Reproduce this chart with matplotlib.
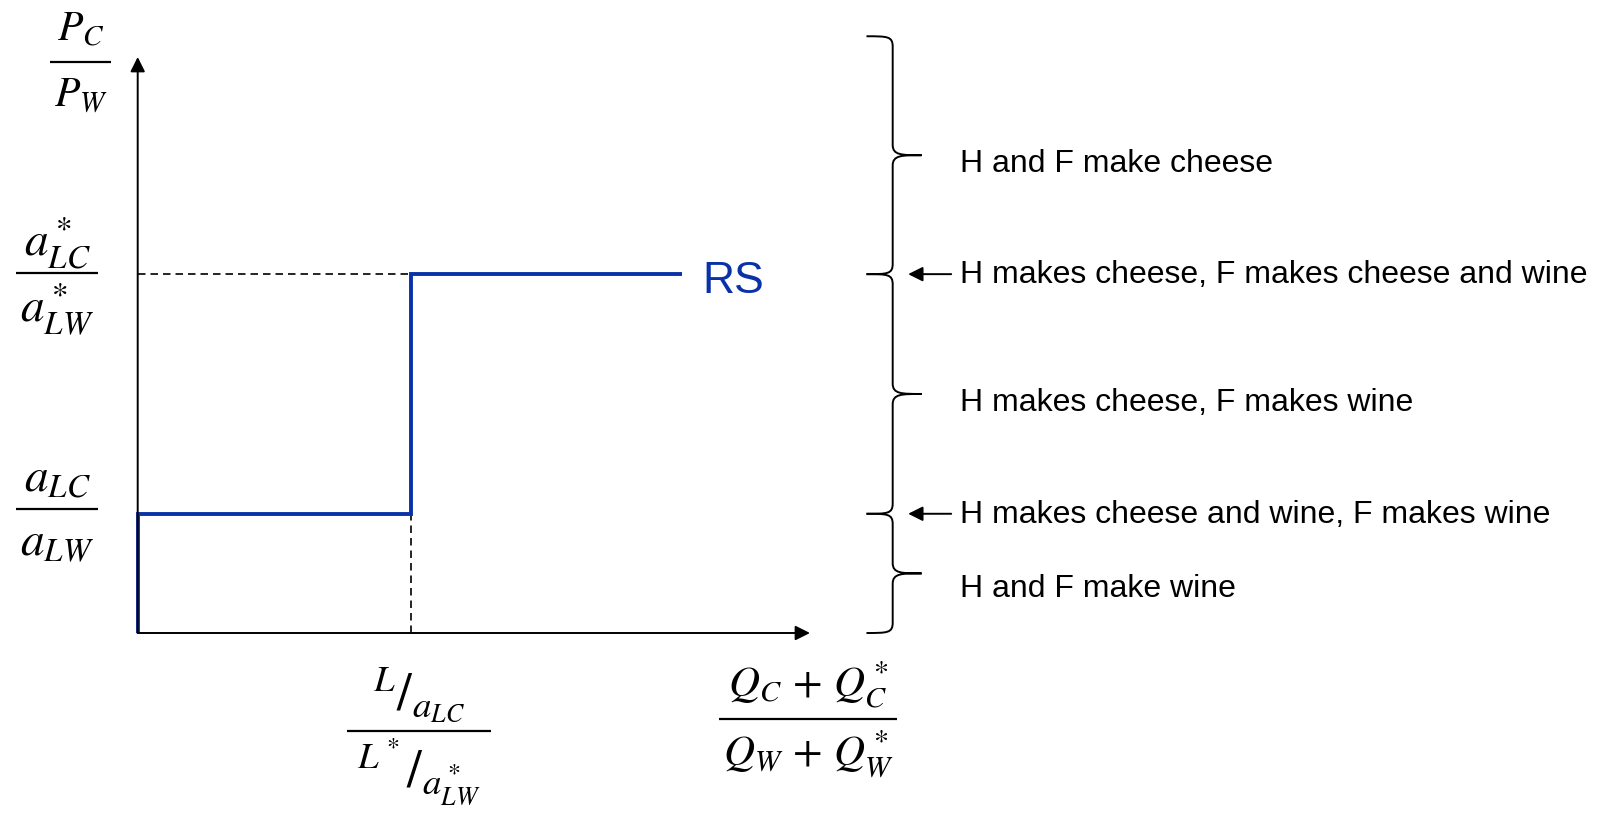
import matplotlib.pyplot as plt
from matplotlib.path import Path
from matplotlib.patches import PathPatch
from matplotlib.transforms import offset_copy

plt.rcParams['font.family'] = ['Liberation Sans', 'DejaVu Sans']
plt.rcParams['mathtext.fontset'] = 'stix'

# relative supply curve (axis units 0..10)
rs_x = [0, 0, 4.07, 4.07, 8.1]
rs_y = [0, 2.07, 2.07, 6.23, 6.23]
price_low = 2.07     # a_LC / a_LW
price_high = 6.23    # a*_LC / a*_LW
supply_kink = 4.07   # (L/a_LC) / (L*/a*_LW)
brace_top = 10.36

regions = ['H and F make cheese',
           'H makes cheese, F makes cheese and wine',
           'H makes cheese, F makes wine',
           'H makes cheese and wine, F makes wine',
           'H and F make wine']
region_y = [8.15, 6.21, 3.99, 2.05, 0.76]
region_arrow = [None, price_high, None, price_low, None]

blue = '#0a32a8'

fig = plt.figure(figsize=(16.11, 8.19), dpi=100)
ax = fig.add_axes([137.7 / 1611, 186 / 819, 672.3 / 1611, 576 / 819])
ax.set_xlim(0, 10)
ax.set_ylim(0, 10)
ax.axis('off')

# axes with arrow heads
for tip in [(0, 1), (1, 0)]:
    ax.annotate('', xy=tip, xytext=(0, 0), xycoords='axes fraction',
                arrowprops=dict(arrowstyle='-|>', lw=1.4, color='black',
                                mutation_scale=22, shrinkA=0, shrinkB=0))

# dashed guide lines
ax.plot([0, supply_kink], [price_high, price_high], color='black', lw=1.2,
        dashes=(4.5, 3), clip_on=False)
ax.plot([supply_kink, supply_kink], [0, price_low], color='black', lw=1.2,
        dashes=(4.5, 3), clip_on=False)

# RS curve
ax.plot(rs_x, rs_y, color=blue, lw=2.8, solid_joinstyle='miter',
        solid_capstyle='butt', clip_on=False)
ax.text(rs_x[-1] + 0.3, rs_y[-1] - 0.13, 'RS', color=blue, fontsize=32,
        ha='left', va='center')


def frac(x, y, num, den, size, gap_num, gap_den, extra=4):
    # stacked fraction: numerator above, denominator below, bar in between
    t_num = ax.text(x, y, num, fontsize=size, ha='center', va='bottom',
                    transform=offset_copy(ax.transData, fig=fig, y=gap_num,
                                          units='dots'))
    t_den = ax.text(x, y, den, fontsize=size, ha='center', va='top',
                    transform=offset_copy(ax.transData, fig=fig, y=-gap_den,
                                          units='dots'))
    fig.canvas.draw()
    r = fig.canvas.get_renderer()
    half = max(t.get_window_extent(r).width for t in (t_num, t_den)) / 2 + extra
    xc, yc = ax.transData.transform((x, y))
    x0, x1 = ax.transData.inverted().transform(
        [(xc - half, yc), (xc + half, yc)])[:, 0]
    ax.plot([x0, x1], [y, y], color='black', lw=1.6, clip_on=False,
            solid_capstyle='butt')


frac(-0.85, 9.92, r'$P_C$', r'$P_W$', 30, 12, 14)
frac(-1.20, 6.25, r'$a^*_{LC}$', r'$a^*_{LW}$', 34, 2, 8)
frac(-1.20, 2.16, r'$a_{LC}$', r'$a_{LW}$', 34, 7, 13)
frac(4.18, -1.71, r'${}^{L}/_{a_{LC}}$', r'${}^{L^*}/_{a^*_{LW}}$', 38, 6, 4,
     extra=10)
frac(9.97, -1.49, r'$Q_C\,+\,Q^*_C$', r'$Q_W\,+\,Q^*_W$', 31, 8, 9)


def brace(y0, y1, x=11.23, w=0.39, tip=0.43, r=0.18):
    # right-facing curly brace between y0 (top) and y1 (bottom)
    ym = (y0 + y1) / 2
    verts = [(x - w, y0), (x - w * 0.2, y0), (x, y0), (x, y0 - r),
             (x, ym + r),
             (x, ym), (x + tip * 0.3, ym), (x + tip, ym),
             (x + tip * 0.3, ym), (x, ym), (x, ym - r),
             (x, y1 + r),
             (x, y1), (x - w * 0.2, y1), (x - w, y1)]
    codes = [Path.MOVETO, Path.CURVE4, Path.CURVE4, Path.CURVE4,
             Path.LINETO,
             Path.CURVE4, Path.CURVE4, Path.CURVE4,
             Path.CURVE4, Path.CURVE4, Path.CURVE4,
             Path.LINETO,
             Path.CURVE4, Path.CURVE4, Path.CURVE4]
    ax.add_patch(PathPatch(Path(verts, codes), fill=False, lw=1.4,
                           color='black', clip_on=False))


brace(brace_top, price_high)
brace(price_high, price_low)
brace(price_low, 0)

for label, y, arrow_y in zip(regions, region_y, region_arrow):
    ax.text(12.23, y, label, fontsize=23, ha='left', va='center')
    if arrow_y is not None:
        ax.annotate('', xy=(11.46, arrow_y), xytext=(12.1, arrow_y),
                    xycoords='data', annotation_clip=False,
                    arrowprops=dict(arrowstyle='-|>', lw=1.4, color='black',
                                    mutation_scale=22, shrinkA=0, shrinkB=0))

fig.savefig('out.png', dpi=100)
